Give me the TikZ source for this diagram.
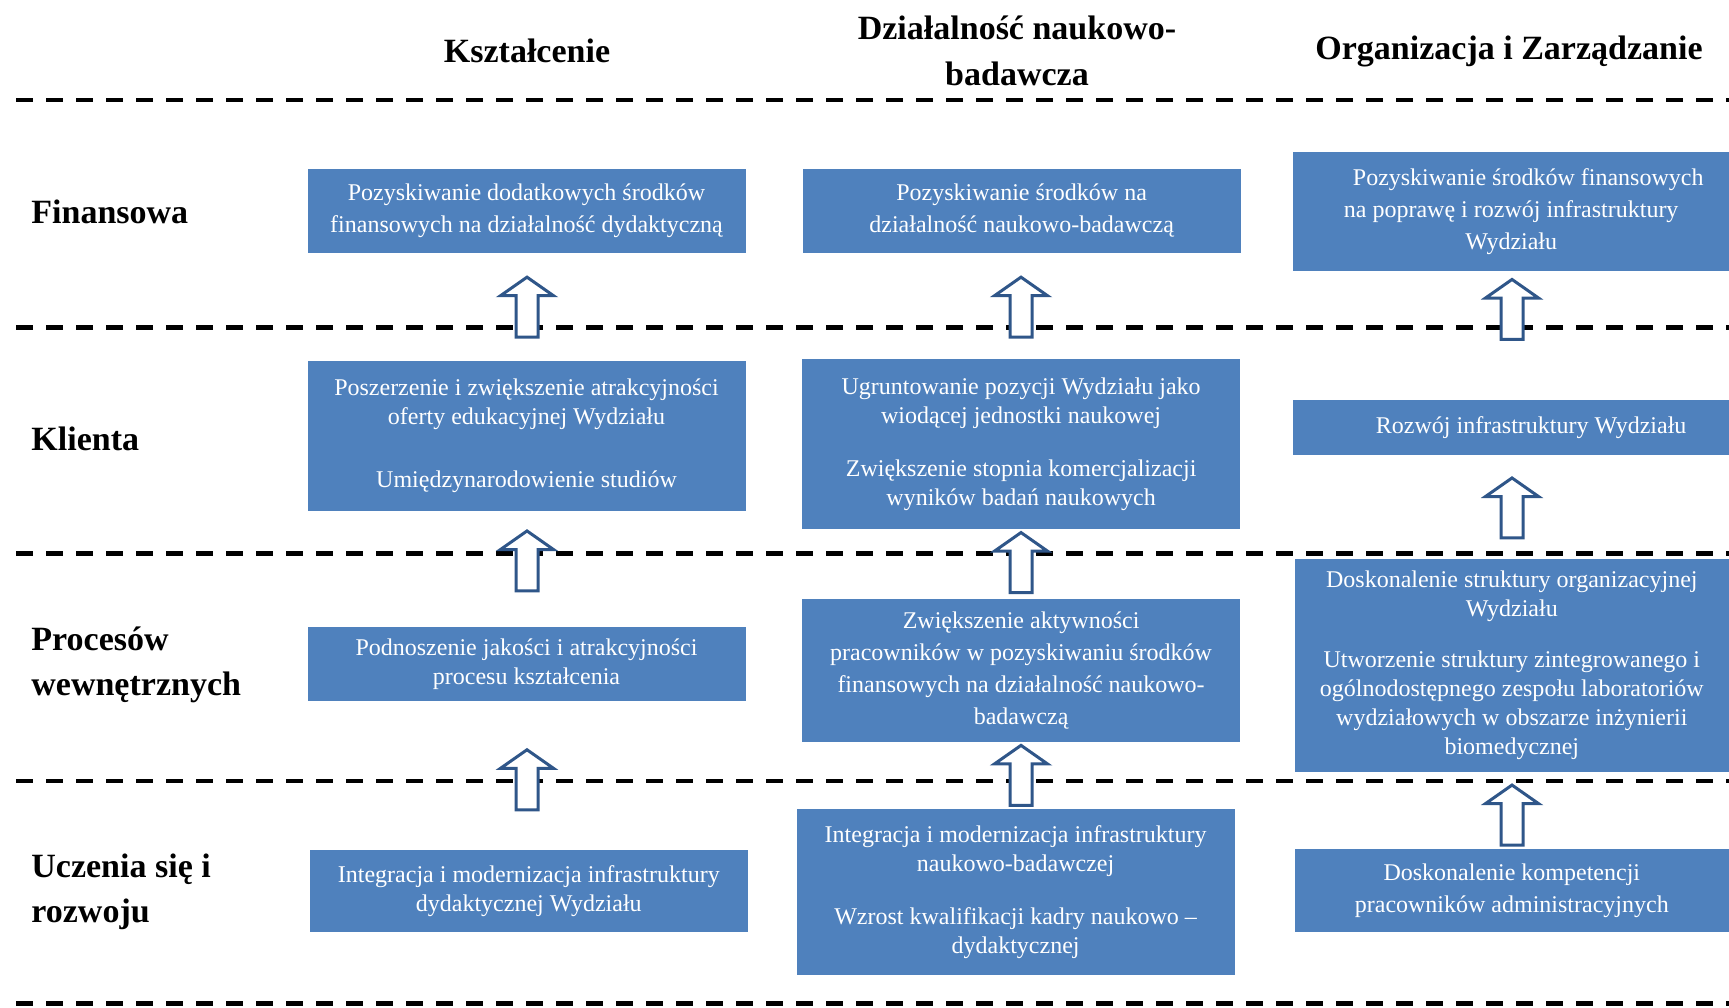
\documentclass[tikz,border=0pt]{standalone}
\usepackage{fontspec}
\setmainfont{Liberation Serif}
\usetikzlibrary{shapes.arrows}

\definecolor{boxblue}{HTML}{4F81BD}
\definecolor{arrowblue}{HTML}{2F5689}

\tikzset{
  goal/.style={rectangle, fill=boxblue, text=white, align=center, inner sep=0pt,
    minimum width=219pt, font=\fontsize{12}{14.5}\selectfont},
  loose/.style={font=\fontsize{12}{16}\selectfont},
  header/.style={align=center, font=\bfseries\fontsize{17}{23}\selectfont},
  perspective/.style={anchor=west, align=left, inner xsep=0pt, font=\bfseries\fontsize{17}{22.5}\selectfont},
  levelline/.style={line width=2.4pt, dash pattern=on 8.5pt off 6.5pt},
  uparrow/.style={single arrow, draw=arrowblue, fill=white, line width=1.5pt,
    rotate=90, inner xsep=0pt, inner ysep=4.75pt, minimum height=30pt, minimum width=25pt,
    single arrow head extend=7.75pt, single arrow tip angle=110},
}

\begin{document}
\begin{tikzpicture}[x=0.5pt, y=-0.5pt]
      \useasboundingbox (0,0) rectangle (1729,1007);

      % headers
      \node[header] (hK) at (527,51) {Kształcenie};
      \node[header] (hD) at (1017,51) {Działalność naukowo-\\badawcza};
      \node[header] (hO) at (1509,51) {Organizacja i Zarządzanie};

      % perspectives
      \node[perspective] (pFin) at (31,212) {Finansowa};
      \node[perspective] (pKl) at (31,439) {Klienta};
      \node[perspective] (pPr) at (31,665) {Procesów\\wewnętrznych};
      \node[perspective] (pUc) at (31,892) {Uczenia się i\\rozwoju};

      \draw[levelline] (16,100) -- (1729,100);
      \draw[levelline] (16,327.5) -- (1729,327.5);
      \draw[levelline] (16,553.5) -- (1729,553.5);
      \draw[levelline] (16,781) -- (1729,781);
      \draw[levelline] (16,1003.5) -- (1729,1003.5);

      % Finansowa
      \node[goal, loose, minimum height=41.9pt] (fK) at (526.5,210.6)
        {Pozyskiwanie dodatkowych środków\\finansowych na działalność dydaktyczną};
      \node[goal, loose, minimum height=41.9pt] (fD) at (1021.6,210.6)
        {Pozyskiwanie środków na\\działalność naukowo-badawczą};
      \node[goal, loose, minimum height=59.5pt, minimum width=217.8pt] (fO) at (1511.2,211.5)
        {\hspace*{17pt}Pozyskiwanie środków finansowych\\na poprawę i rozwój infrastruktury\\Wydziału};

      % Klienta
      \node[goal, minimum height=75pt] (kK) at (526.5,435.5)
        {Poszerzenie i zwiększenie atrakcyjności\\oferty edukacyjnej Wydziału\\[17pt]Umiędzynarodowienie studiów};
      \node[goal, minimum height=85pt] (kD) at (1021.1,444.4)
        {Ugruntowanie pozycji Wydziału jako\\wiodącej jednostki naukowej\\[12pt]Zwiększenie stopnia komercjalizacji\\wyników badań naukowych};
      \node[goal, minimum height=27.7pt, minimum width=217.8pt] (kO) at (1511.2,427.7)
        {\hspace*{20pt}Rozwój infrastruktury Wydziału};

      % Procesow wewnetrznych
      \node[goal, minimum height=37pt] (pK) at (526.5,664.4)
        {Podnoszenie jakości i atrakcyjności\\procesu kształcenia};
      \node[goal, loose, minimum height=71.7pt] (pD) at (1021.1,670.5)
        {Zwiększenie aktywności\\pracowników w pozyskiwaniu środków\\finansowych na działalność naukowo-\\badawczą};
      \node[goal, minimum height=106.5pt, minimum width=217.2pt] (pO) at (1511.8,665.5)
        {Doskonalenie struktury organizacyjnej\\Wydziału\\[11pt]Utworzenie struktury zintegrowanego i\\ogólnodostępnego zespołu laboratoriów\\wydziałowych w obszarze inżynierii\\biomedycznej};

      % Uczenia sie i rozwoju
      \node[goal, minimum height=41pt] (uK) at (528.8,890.9)
        {Integracja i modernizacja infrastruktury\\dydaktycznej Wydziału};
      \node[goal, minimum height=82.7pt] (uD) at (1015.6,892.1)
        {Integracja i modernizacja infrastruktury\\naukowo-badawczej\\[12pt]Wzrost kwalifikacji kadry naukowo –\\dydaktycznej};
      \node[goal, loose, minimum height=41.5pt, minimum width=217.2pt] (uO) at (1511.8,890.4)
        {Doskonalenie kompetencji\\pracowników administracyjnych};

      % block arrows
      \node[uparrow] (aK1) at (527,311) {};
      \node[uparrow] (aK2) at (527,564.8) {};
      \node[uparrow] (aK3) at (527,783.6) {};
      \node[uparrow] (aD1) at (1021,311) {};
      \node[uparrow] (aD2) at (1021,566.4) {};
      \node[uparrow] (aD3) at (1021,779.2) {};
      \node[uparrow] (aO1) at (1512,313.3) {};
      \node[uparrow] (aO2) at (1512,511.8) {};
      \node[uparrow] (aO3) at (1512,818.9) {};
\end{tikzpicture}
\end{document}
